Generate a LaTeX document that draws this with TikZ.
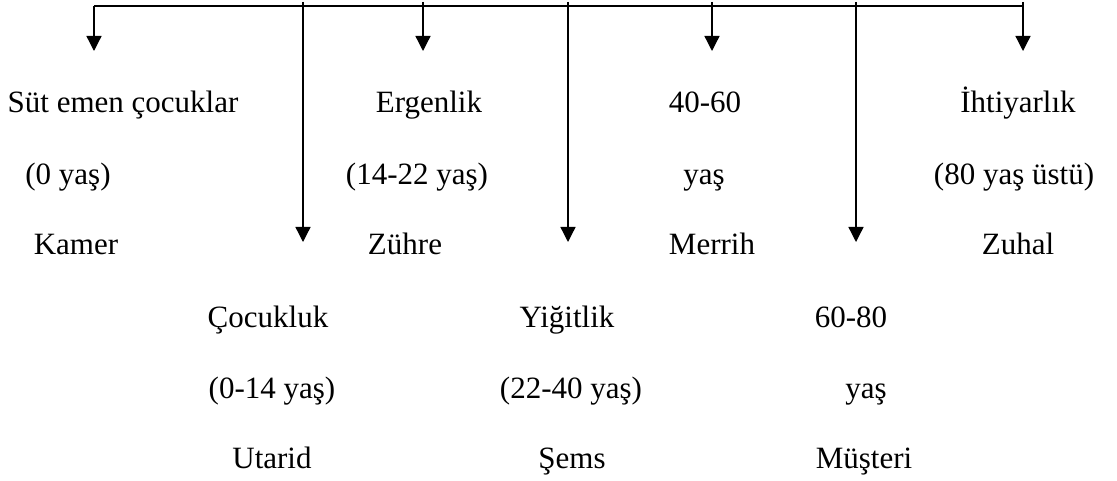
\documentclass[tikz,border=0pt]{standalone}
\usepackage{fontspec}
\setmainfont{Liberation Serif}
\usetikzlibrary{arrows.meta}
\begin{document}
\begin{tikzpicture}[x=1pt,y=-1pt,
  lbl/.style={anchor=base,inner sep=0pt,font=\fontsize{31}{37}\selectfont},
  bus/.style={line width=1.3pt},
  drop/.style={line width=1.3pt,-{Triangle[width=15pt,length=15pt]}}]
\useasboundingbox (0,0) rectangle (1117,481);
% bus
\coordinate (b1) at (94,6);
\coordinate (b7) at (1023,6);
\coordinate (t2) at (303,2);
\coordinate (t3) at (423,2);
\coordinate (t4) at (568,2);
\coordinate (t5) at (712,2);
\coordinate (t6) at (856,2);
\coordinate (t7) at (1023,2);
\coordinate (e1) at (94,51);
\coordinate (e2) at (303,242);
\coordinate (e3) at (423,51);
\coordinate (e4) at (568,242);
\coordinate (e5) at (712,51);
\coordinate (e6) at (856,242);
\coordinate (e7) at (1023,51);
\draw[bus] (b1) -- (b7);
\draw[drop] (b1) -- (e1);
\draw[drop] (t2) -- (e2);
\draw[drop] (t3) -- (e3);
\draw[drop] (t4) -- (e4);
\draw[drop] (t5) -- (e5);
\draw[drop] (t6) -- (e6);
\draw[drop] (t7) -- (e7);
% upper group
\node[lbl] (a1) at (123,113) {Süt emen çocuklar};
\node[lbl] (a2) at (68,185) {(0 yaş)};
\node[lbl] (a3) at (76,255) {Kamer};
\node[lbl] (c1) at (429,113) {Ergenlik};
\node[lbl] (c2) at (417,185) {(14-22 yaş)};
\node[lbl] (c3) at (405,255) {Zühre};
\node[lbl] (e1l) at (705,113) {40-60};
\node[lbl] (e2l) at (704,185) {yaş};
\node[lbl] (e3l) at (712,255) {Merrih};
\node[lbl] (g1) at (1018,113) {İhtiyarlık};
\node[lbl] (g2) at (1014,185) {(80 yaş üstü)};
\node[lbl] (g3) at (1018,255) {Zuhal};
% lower group
\node[lbl] (d1) at (268,327) {Çocukluk};
\node[lbl] (d2) at (272,398) {(0-14 yaş)};
\node[lbl] (d3) at (272,468) {Utarid};
\node[lbl] (f1) at (567,327) {Yiğitlik};
\node[lbl] (f2) at (571,398) {(22-40 yaş)};
\node[lbl] (f3) at (572,468) {Şems};
\node[lbl] (h1) at (851,327) {60-80};
\node[lbl] (h2) at (866,398) {yaş};
\node[lbl] (h3) at (864,468) {Müşteri};
\end{tikzpicture}
\end{document}
